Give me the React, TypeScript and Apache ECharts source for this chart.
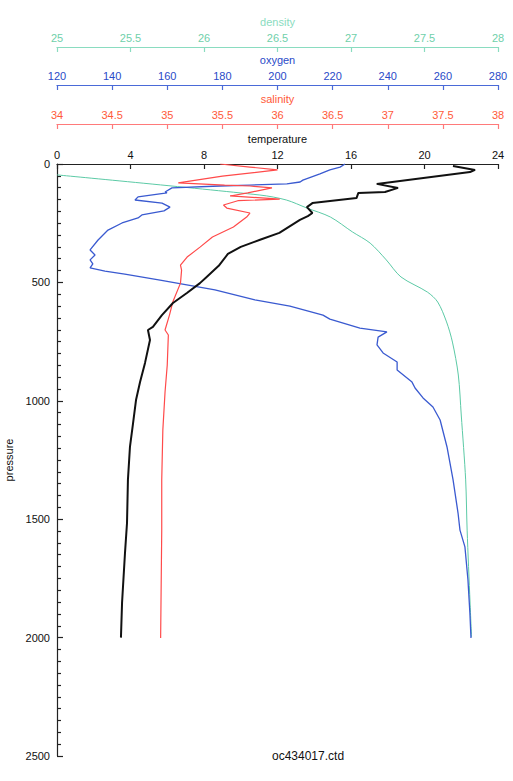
import React, { useEffect, useRef } from "react";
import * as echarts from "echarts";

// ---- data (pressure in dbar) ----
const tempP = [8, 25, 34, 84, 101, 118, 122, 144, 165, 182, 207, 220, 236, 291, 320, 350, 380, 430, 480, 503, 545, 587, 638, 688, 701, 743, 840, 921, 997, 1094, 1195, 1334, 1516, 1643, 1854, 2000];
const tempV = [21.55, 22.75, 22.48, 17.4, 18.56, 17.85, 16.4, 16.3, 13.9, 13.6, 13.9, 13.65, 13.22, 12.1, 11.05, 10.0, 9.3, 8.8, 8.1, 7.78, 7.07, 6.31, 5.71, 5.22, 4.95, 5.06, 4.79, 4.52, 4.3, 4.14, 3.97, 3.86, 3.81, 3.7, 3.54, 3.48];

const salP = [0, 13, 25, 51, 80, 89, 93, 101, 122, 135, 148, 155, 173, 186, 207, 224, 266, 308, 350, 393, 427, 448, 503, 583, 638, 701, 722, 849, 963, 1123, 1334, 1546, 2002];
const salV = [35.48, 35.75, 36.0, 35.5, 35.1, 35.52, 35.75, 35.95, 35.73, 35.57, 36.02, 35.64, 35.51, 35.54, 35.75, 35.72, 35.6, 35.41, 35.3, 35.18, 35.12, 35.13, 35.12, 35.05, 35.02, 34.98, 35.01, 35.0, 34.98, 34.96, 34.95, 34.95, 34.94];

const oxyP = [0, 13, 25, 42, 68, 76, 84, 89, 93, 101, 118, 122, 139, 152, 165, 182, 198, 215, 228, 249, 279, 321, 363, 384, 405, 422, 439, 452, 465, 490, 532, 574, 600, 638, 655, 693, 709, 731, 764, 798, 836, 870, 921, 946, 988, 1026, 1081, 1195, 1334, 1474, 1546, 1617, 1757, 1896, 2002];
const oxyV = [224.5, 222.7, 219.0, 215.4, 209.2, 208.2, 203.4, 190.0, 179.0, 161.7, 159.2, 159.9, 149.4, 148.3, 158.1, 161.0, 158.8, 150.8, 149.4, 143.6, 138.5, 134.9, 132.0, 133.8, 132.0, 133.0, 132.0, 137.4, 144.6, 157.4, 177.3, 191.8, 204.5, 216.5, 219.0, 229.9, 239.7, 236.5, 236.1, 238.3, 243.4, 243.4, 248.8, 249.9, 252.8, 256.4, 259.0, 261.5, 263.7, 265.5, 266.2, 268.0, 269.1, 269.8, 270.2];

const denP = [46, 131, 152, 186, 224, 287, 334, 405, 477, 541, 583, 667, 752, 891, 1060, 1334, 1546, 1854, 1997];
const denV = [25.0, 26.38, 26.56, 26.7, 26.86, 27.01, 27.13, 27.24, 27.34, 27.52, 27.59, 27.65, 27.69, 27.73, 27.75, 27.78, 27.79, 27.81, 27.82];

const fileName = "oc434017.ctd";

const FONT = "Liberation Sans, Arial, Helvetica, sans-serif";
const C_TEMP = "#111111";
const C_SAL = "#ff4a4a";
const C_OXY = "#3a5ad0";
const C_DEN = "#5ccaa6";

function pairs(v: number[], p: number[]) {
  return v.map((x, i) => [x, p[i]]);
}

function topAxis(name: string, min: number, max: number, interval: number, offset: number, color: string, labelColor: string, nameColor: string) {
  return {
    type: "value",
    position: "top",
    offset,
    min,
    max,
    interval,
    name,
    nameLocation: "middle",
    nameGap: 19,
    nameTextStyle: { color: nameColor, fontSize: 11, fontFamily: FONT },
    axisLine: { show: true, lineStyle: { color, width: 1.2 } },
    axisTick: { show: true, inside: true, length: 5, lineStyle: { color, width: 1.2 } },
    axisLabel: { color: labelColor, fontSize: 11, fontFamily: FONT, margin: 4 },
    splitLine: { show: false },
  };
}

export default function App() {
  const ref = useRef<HTMLDivElement>(null);
  useEffect(() => {
    if (!ref.current) return;
    const chart = echarts.init(ref.current, undefined, { renderer: "svg" });
    chart.setOption({
      animation: false,
      backgroundColor: "#ffffff",
      grid: { left: 57, top: 164, right: 15, bottom: 25, containLabel: false, outerBoundsMode: "none" },
      xAxis: [
        topAxis("temperature", 0, 24, 4, 0, "#222", "#111", "#111"),
        topAxis("salinity", 34, 38, 0.5, 40, "#ff7a7a", "#ff5a3a", "#ff5a3a"),
        topAxis("oxygen", 120, 280, 20, 79, "#4a6ad8", "#2a4ac8", "#2a4ac8"),
        topAxis("density", 25, 28, 0.5, 117, "#8adcc0", "#6fd0aa", "#8adcc0"),
      ],
      yAxis: {
        type: "value",
        inverse: true,
        min: 0,
        max: 2500,
        interval: 500,
        name: "pressure",
        nameLocation: "middle",
        nameGap: 34,
        nameTextStyle: { color: "#111", fontSize: 11, fontFamily: FONT },
        axisLine: { show: true, lineStyle: { color: "#222", width: 1.2 } },
        axisTick: { show: true, inside: true, length: 6, lineStyle: { color: "#222", width: 1.2 } },
        minorTick: { show: true, splitNumber: 10, length: 4, lineStyle: { color: "#222", width: 1.2 } },
        axisLabel: { color: "#111", fontSize: 11, fontFamily: FONT, margin: 7, formatter: (v: number) => String(v) },
        splitLine: { show: false },
        minorSplitLine: { show: false },
      },
      series: [
        {
          type: "line", name: "density", xAxisIndex: 3, yAxisIndex: 0,
          data: pairs(denV, denP), showSymbol: false, smooth: 0.3,
          lineStyle: { color: C_DEN, width: 1 },
        },
        {
          type: "line", name: "oxygen", xAxisIndex: 2, yAxisIndex: 0,
          data: pairs(oxyV, oxyP), showSymbol: false,
          lineStyle: { color: C_OXY, width: 1.3 },
        },
        {
          type: "line", name: "salinity", xAxisIndex: 1, yAxisIndex: 0,
          data: pairs(salV, salP), showSymbol: false,
          lineStyle: { color: C_SAL, width: 1.2 },
        },
        {
          type: "line", name: "temperature", xAxisIndex: 0, yAxisIndex: 0,
          data: pairs(tempV, tempP), showSymbol: false,
          lineStyle: { color: C_TEMP, width: 2 },
        },
      ],
      graphic: [
        {
          type: "text", left: 308 - 36, top: 750,
          style: { text: fileName, fill: "#111", fontSize: 12, fontFamily: FONT },
        },
      ],
    });
    return () => chart.dispose();
  }, []);
  return <div ref={ref} style={{ position: "fixed", left: 0, top: 0, width: 513, height: 781 }} />;
}
